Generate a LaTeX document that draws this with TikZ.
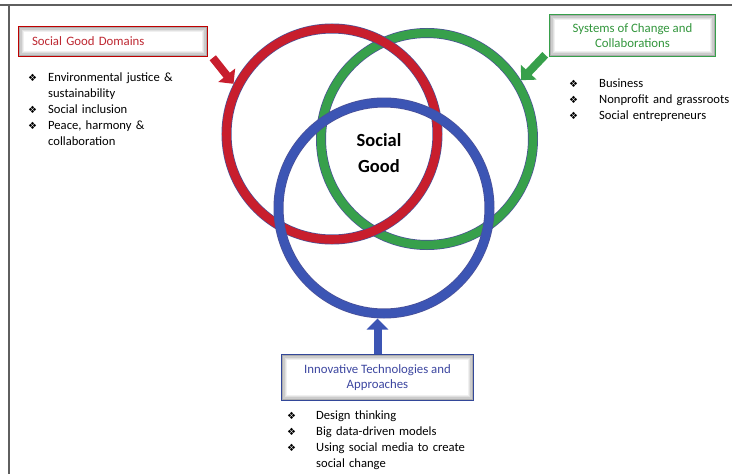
\documentclass[tikz,border=0pt]{standalone}
\usepackage{fontspec}
\setmainfont{Carlito}
\newfontfamily\symfont{DejaVu Sans}
\usepackage{xcolor}
\usepackage{tikz}
\usetikzlibrary{arrows.meta, positioning, shapes}

\definecolor{ringred}{RGB}{200,30,45}
\definecolor{ringgreen}{RGB}{55,160,75}
\definecolor{ringblue}{RGB}{60,85,180}
\definecolor{ringedge}{RGB}{75,80,150}
\definecolor{txtred}{RGB}{190,40,50}
\definecolor{txtgreen}{RGB}{50,150,60}
\definecolor{txtblue}{RGB}{60,70,160}
\definecolor{framegray}{RGB}{95,95,95}

\newcommand{\dmd}{{\symfont\fontsize{10}{10}\selectfont ❖}}
\newcommand{\bitem}[2]{\par\hyphenpenalty=10000\hangindent=#1\hangafter=1\noindent\makebox[#1][l]{\dmd}#2}

\tikzset{
  ring/.style={circle, draw=ringedge, line width=0.7pt, double=#1,
    double distance=8.6pt, outer sep=5pt, inner sep=0pt},
  titlebox/.style={rectangle, draw=#1, line width=1.6pt, fill=white,
    inner sep=0pt},
  bulletlist/.style={anchor=base west, align=left, inner sep=0pt,
    font=\fontsize{12.6}{16}\selectfont},
  blockarrow/.style={draw=#1, line width=8pt,
    -{Triangle[length=11pt,width=21pt]}}
}

\begin{document}
\begin{tikzpicture}[x=1pt,y=-1pt]
\useasboundingbox (0,0) rectangle (732,474);

% Frame
\draw[framegray, line width=1.3pt] (0,5) -- (732,5);
\draw[framegray, line width=1.3pt] (9,5) -- (9,474);

% Circles
\node[ring=ringgreen, minimum size=212pt] (green) at (427,139) {};
\node[ring=ringred, minimum size=211pt] (red) at (332,134) {};
\node[ring=ringblue, minimum size=211pt] (blue) at (384,208) {};

\node[font=\bfseries\fontsize{18.5}{26}\selectfont, align=center] (center) at (379,153) {Social\\Good};

% Boxes
\node[titlebox=red!75!black, minimum width=188pt, minimum height=29pt,
  text width=162pt, align=left, text=txtred, font=\fontsize{12.8}{15}\selectfont]
  (domains) at (113,41.5) {Social Good Domains};
\node[titlebox=ringgreen, minimum width=165pt, minimum height=41pt,
  align=center, text=txtgreen, font=\fontsize{12.8}{15}\selectfont]
  (systems) at (632.5,35.5) {Systems of Change and\\Collaborations};
\node[titlebox=ringblue!85!black, minimum width=191pt, minimum height=45pt,
  align=center, text=txtblue, font=\fontsize{12.8}{15}\selectfont]
  (innov) at (377.5,377.5) {Innovative Technologies and\\Approaches};

% Inner shadow of the boxes
\foreach \b in {domains, systems, innov}{
  \foreach \i/\o in {1.6/32, 2.8/20, 4/12, 5.2/6}{
    \draw[black!\o, line width=1.3pt]
      ([shift={(\i,\i)}]\b.north west) rectangle ([shift={(-\i,-\i)}]\b.south east);
  }
}

% Arrows
\draw[blockarrow=ringred] ([shift={(5,1)}]domains.south east) -- (red.153);
\draw[blockarrow=ringgreen] ([shift={(-4,-2)}]systems.south west) -- (green.32);
\draw[blockarrow=ringblue] (innov.north) -- (innov.north |- blue.south);

% Lists
\node[bulletlist, text width=200pt] (domainlist) at (28,65) {%
  \bitem{20pt}{Environmental justice \&\newline sustainability}
  \bitem{20pt}{Social inclusion}
  \bitem{20pt}{Peace, harmony \&\newline collaboration}\par};
\node[bulletlist, text width=175pt] (systemlist) at (569,71) {%
  \bitem{30pt}{Business}
  \bitem{30pt}{Nonprofit and grassroots}
  \bitem{30pt}{Social entrepreneurs}\par};
\node[bulletlist, text width=200pt] (innovlist) at (287,403) {%
  \bitem{29pt}{Design thinking}
  \bitem{29pt}{Big data-driven models}
  \bitem{29pt}{Using social media to create\newline social change}\par};
\end{tikzpicture}
\end{document}
